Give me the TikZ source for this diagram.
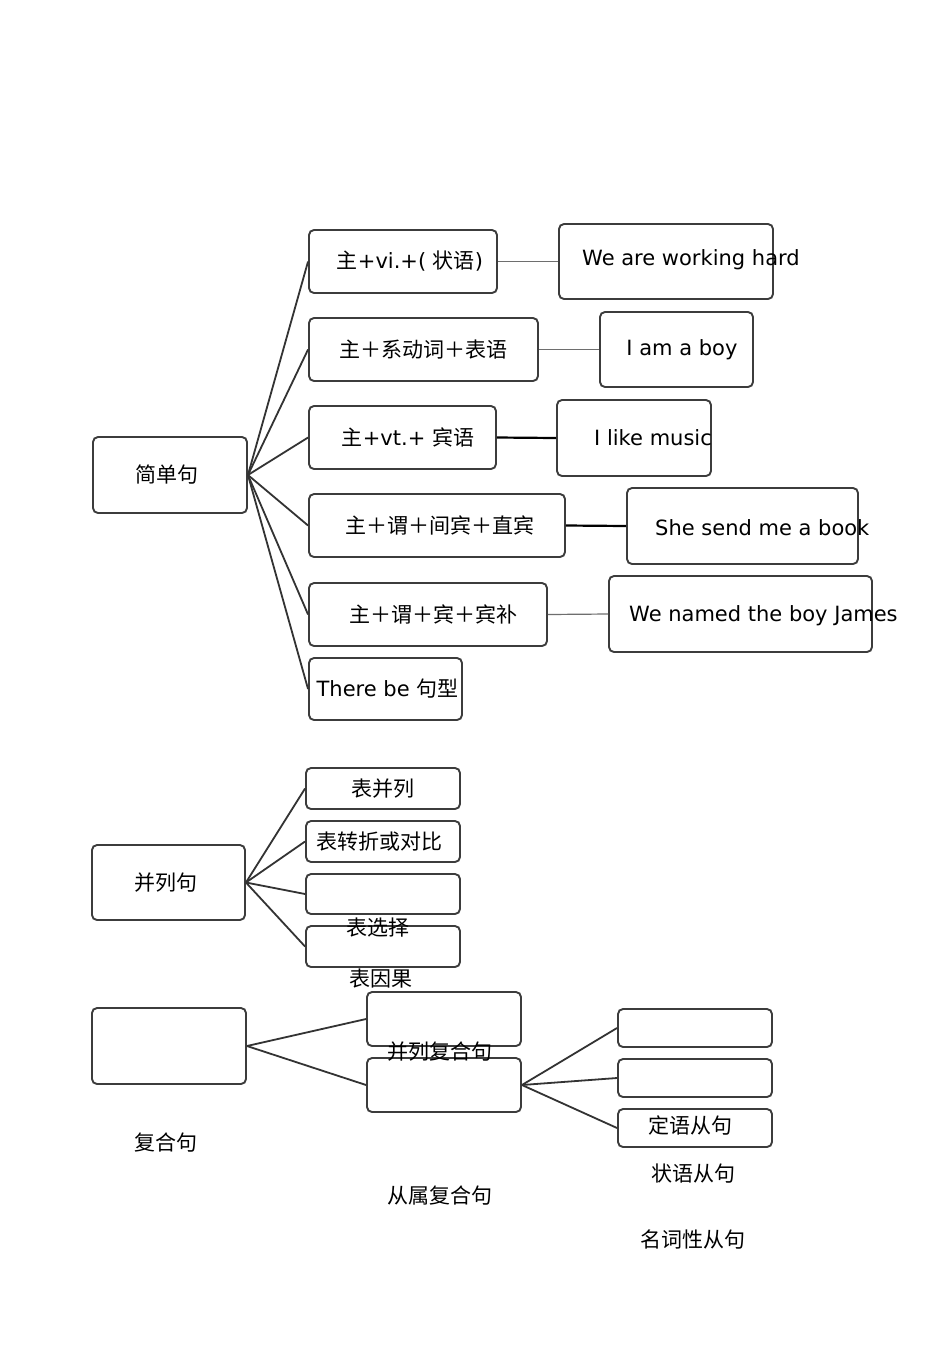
\documentclass[tikz,border=0pt]{standalone}
\usepackage{fontspec}
\setmainfont{DejaVu Sans}
\newfontfamily\cjkfam{Noto Sans CJK SC}
\newcommand\zhs[1]{{\cjkfam #1}}
\definecolor{boxc}{HTML}{3C3C3C}
\definecolor{linec}{HTML}{333333}
\definecolor{thinc}{HTML}{6E6E6E}
\begin{document}
\begin{tikzpicture}[x=1pt,y=-1pt,
  box/.style={draw=boxc, line width=1.9pt, rounded corners=5pt, inner sep=2pt, fill=white},
  txt/.style={inner sep=0pt, text=black},
  link/.style={draw=linec, line width=1.8pt},
  thinlink/.style={draw=thinc, line width=1.2pt},
  boldlink/.style={draw=black, line width=2.2pt},
  every node/.style={font=\fontsize{21}{24}\selectfont}]
\useasboundingbox (0,0) rectangle (950,1345);
\fill[white] (0,0) rectangle (950,1345);

% simple sentences
\node[box, minimum width=154pt, minimum height=76pt] (jd) at (170,475) {\zhs{简单句}\hspace*{6pt}};
\node[box, minimum width=188pt, minimum height=63pt] (b1) at (403,261.5) {\hspace*{14pt}\zhs{主}+vi.+( \zhs{状语})};
\node[box, minimum width=229pt, minimum height=63pt] (b2) at (423.5,349.5) {\zhs{主＋系动词＋表语}};
\node[box, minimum width=187pt, minimum height=63pt] (b3) at (402.5,437.5) {\hspace*{11pt}\zhs{主}+vt.+ \zhs{宾语}};
\node[box, minimum width=256pt, minimum height=63pt] (b4) at (437,525.5) {\hspace*{6pt}\zhs{主＋谓＋间宾＋直宾}};
\node[box, minimum width=238pt, minimum height=63pt] (b5) at (428,614.5) {\hspace*{10pt}\zhs{主＋谓＋宾＋宾补}};
\node[box, minimum width=153pt, minimum height=62pt] (b6) at (385.5,689) {\hspace*{4pt}There be \zhs{句型}};

\node[box, minimum width=214pt, minimum height=75pt] (e1) at (666,261.5) {};
\node[box, minimum width=153pt, minimum height=75pt] (e2) at (676.5,349.5) {\hspace*{11pt}I am a boy};
\node[box, minimum width=154pt, minimum height=76pt] (e3) at (634,438) {};
\node[box, minimum width=231pt, minimum height=76pt] (e4) at (742.5,526) {};
\node[box, minimum width=263pt, minimum height=76pt] (e5) at (740.5,614) {};
\node[txt, anchor=west] (t1) at (582,260) {We are working hard};
\node[txt, anchor=west] (t3) at (594,438) {I like music};
\node[txt, anchor=west] (t4) at (655,528) {She send me a book};
\node[txt, anchor=west] (t5) at (629,616) {We named the boy James};

\foreach \b in {b1,b2,b3,b4,b5,b6} \draw[link] (jd.east) -- (\b.west);
\draw[thinlink] (b1.east) -- (e1.west);
\draw[thinlink] (b2.east) -- (e2.west);
\draw[boldlink] (b3.east) -- (e3.west);
\draw[boldlink] (b4.east) -- (e4.west);
\draw[thinlink] (b5.east) -- (e5.west);

% coordinate sentences
\node[box, minimum width=153pt, minimum height=75pt] (bl) at (168.5,882.5) {\zhs{并列句}\hspace*{6pt}};
\node[box, minimum width=154pt, minimum height=41pt] (p1) at (383,788.5) {\zhs{表并列}};
\node[box, minimum width=154pt, minimum height=41pt] (p2) at (383,841.5) {\zhs{表转折或对比}\hspace*{8pt}};
\node[box, minimum width=154pt, minimum height=40pt] (p3) at (383,894) {};
\node[box, minimum width=154pt, minimum height=41pt] (p4) at (383,946.5) {};
\foreach \p in {p1,p2,p3,p4} \draw[link] (bl.east) -- (\p.west);
\node[txt] (t6) at (378,928) {\zhs{表选择}};
\node[txt] (t7) at (381,979) {\zhs{表因果}};

% complex sentences
\node[box, minimum width=154pt, minimum height=76pt] (fh) at (169,1046) {};
\node[box, minimum width=154pt, minimum height=54pt] (c1) at (444,1019) {};
\node[box, minimum width=154pt, minimum height=54pt] (c2) at (444,1085) {};
\node[box, minimum width=154pt, minimum height=38pt] (d1) at (695,1028) {};
\node[box, minimum width=154pt, minimum height=38pt] (d2) at (695,1078) {};
\node[box, minimum width=154pt, minimum height=38pt] (d3) at (695,1128) {};
\draw[link] (fh.east) -- (c1.west);
\draw[link] (fh.east) -- (c2.west);
\foreach \d in {d1,d2,d3} \draw[link] (c2.east) -- (\d.west);
\node[txt] (t8) at (166,1143) {\zhs{复合句}};
\node[txt] (t9) at (440,1052) {\zhs{并列复合句}};
\node[txt] (t10) at (440,1196) {\zhs{从属复合句}};
\node[txt] (t11) at (690,1125) {\zhs{定语从句}};
\node[txt] (t12) at (693,1174) {\zhs{状语从句}};
\node[txt] (t13) at (693,1240) {\zhs{名词性从句}};
\end{tikzpicture}
\end{document}
